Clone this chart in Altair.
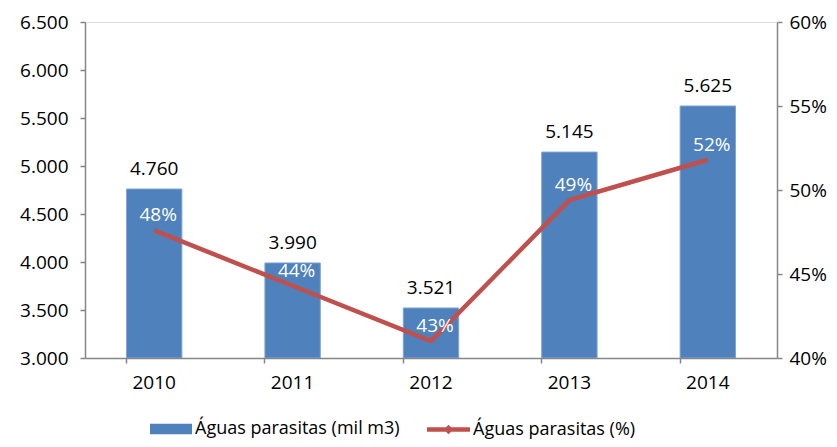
import altair as alt
import pandas as pd

years = ["2010", "2011", "2012", "2013", "2014"]
volumes = [4760, 3990, 3521, 5145, 5625]
pct_line = [0.476, 0.443, 0.410, 0.494, 0.518]
pct_labels = ["48%", "44%", "43%", "49%", "52%"]
left_ticks = [3000, 3500, 4000, 4500, 5000, 5500, 6000, 6500]
right_ticks = [0.40, 0.45, 0.50, 0.55, 0.60]
bar_name = "Águas parasitas (mil m3)"
line_name = "Águas parasitas (%)"

df = pd.DataFrame({
    "ano": years,
    "volume": volumes,
    "pct": pct_line,
    "pct_label": pct_labels,
    "serie_bar": bar_name,
    "serie_line": line_name,
})

FONT = "Open Sans"
FS = 18
AFS = 19
AXC = "#868686"

x = alt.X("ano:N", sort=years,
          scale=alt.Scale(paddingInner=0.6, paddingOuter=0.3),
          axis=alt.Axis(title=None, labelAngle=0, bandPosition=0,
                        labelFont=FONT, labelFontSize=AFS, labelColor="black",
                        domainColor=AXC, tickColor=AXC, tickSize=5, labelPadding=10,
                        domainWidth=1.5, tickWidth=1.5))

yl_axis = alt.Axis(title=None, values=left_ticks, grid=False, orient="left",
                   labelExpr="replace(format(datum.value, ',.0f'), ',', '.')",
                   labelFont=FONT, labelFontSize=AFS, labelColor="black",
                   domainColor=AXC, tickColor=AXC, tickSize=5, labelPadding=12,
                   domainWidth=1.5, tickWidth=1.5)
yl = alt.Y("volume:Q", scale=alt.Scale(domain=[3000, 6500], zero=False), axis=yl_axis)

yr_axis = alt.Axis(title=None, values=right_ticks, grid=False, orient="right", format=".0%",
                   labelFont=FONT, labelFontSize=AFS, labelColor="black",
                   domainColor=AXC, tickColor=AXC, tickSize=5, labelPadding=7,
                   domainWidth=1.5, tickWidth=1.5)
yr = alt.Y("pct:Q", scale=alt.Scale(domain=[0.40, 0.60], zero=False), axis=yr_axis)

base = alt.Chart(df)

bars = base.mark_bar(clip=True, stroke="#7FA3D3", strokeWidth=1).encode(
    x=x, y=yl, y2=alt.datum(3000),
    fill=alt.Fill("serie_bar:N", scale=alt.Scale(domain=[bar_name], range=["#4F81BD"]),
                  legend=alt.Legend(orient="none", legendX=65, legendY=386, title=None,
                                    symbolType="M-1,-0.25H1V0.25H-1Z", symbolSize=1764,
                                    symbolStrokeWidth=0, labelFont=FONT, labelFontSize=FS,
                                    labelColor="black", labelOffset=3, padding=0, labelLimit=0)),
)
bar_text = base.mark_text(font=FONT, fontSize=AFS, color="black", baseline="middle", dy=-20).encode(
    x=x, y=yl,
    text=alt.Text("vlabel:N"),
).transform_calculate(vlabel="replace(format(datum.volume, ','), ',', '.')")

line = base.mark_line(strokeWidth=4.5).encode(
    x=x, y=yr,
    stroke=alt.Stroke("serie_line:N", scale=alt.Scale(domain=[line_name], range=["#C0504D"]),
                      legend=alt.Legend(orient="none", legendX=342, legendY=386, title=None,
                                        symbolType="M-1,-0.1H1V0.1H-1Z M0,-0.22L0.22,0L0,0.22L-0.22,0Z",
                                        symbolSize=1849, symbolFillColor="#C0504D",
                                        symbolStrokeWidth=0, labelFont=FONT, labelFontSize=FS,
                                        labelColor="black", labelOffset=3, padding=0, labelLimit=0)),
)
pct_text = base.mark_text(font=FONT, fontSize=AFS, color="white", baseline="middle", dy=-15, dx=4).encode(
    x=x, y=yr, text="pct_label:N",
)

chart = alt.layer(
    alt.layer(bars, bar_text),
    alt.layer(line, pct_text),
).resolve_scale(y="independent", fill="independent", stroke="independent").properties(
    width=692, height=336,
    autosize=alt.AutoSizeParams(type="none"),
    padding={"left": 77, "top": 14, "right": 52, "bottom": 81},
).configure_view(stroke=None).configure(background="white")

chart.save("out.html", embed_options={"renderer": "svg", "actions": False})
